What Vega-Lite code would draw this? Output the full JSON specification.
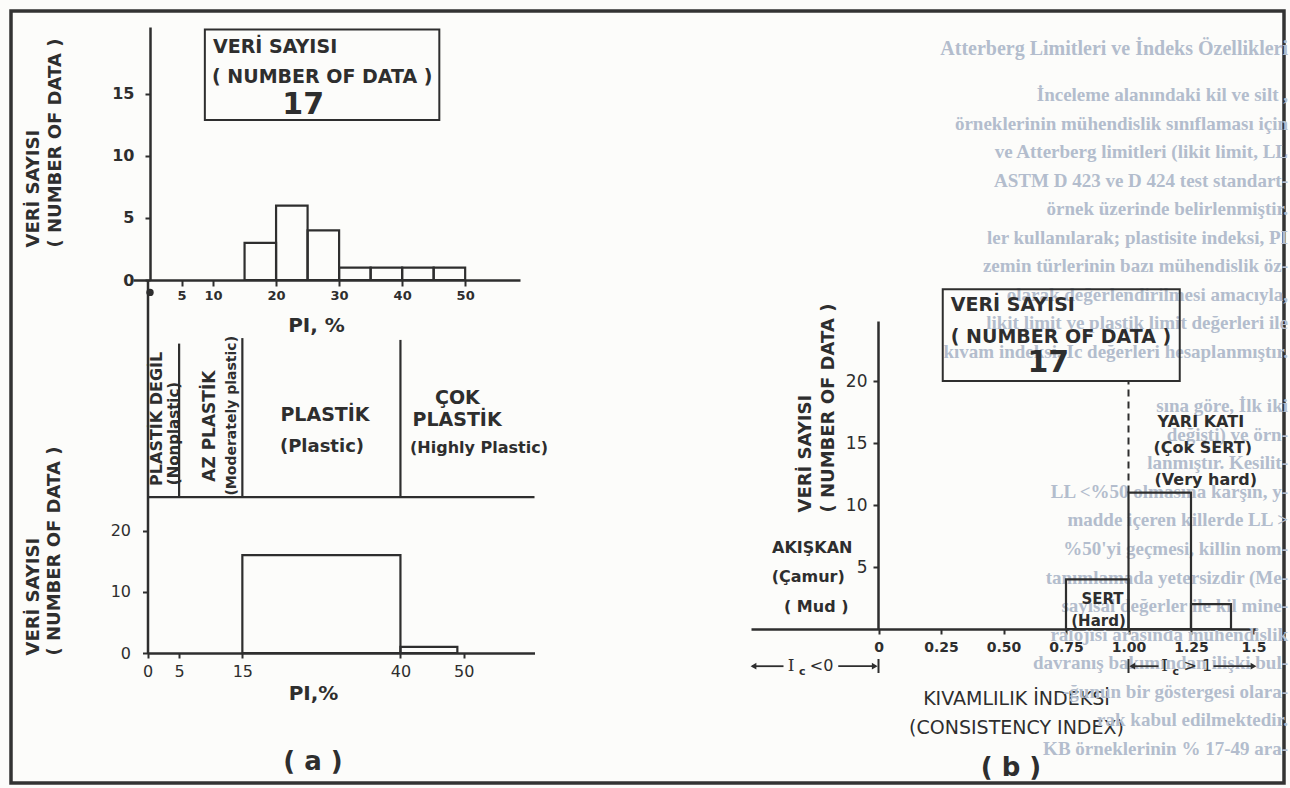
{
  "$schema": "https://vega.github.io/schema/vega-lite/v6.json",
  "width": 1273,
  "height": 772,
  "autosize": {"type": "none"},
  "padding": {"left": 11, "top": 11, "right": 6, "bottom": 5},
  "background": "#fcfcfa",
  "config": {
    "view": {"stroke": "#333333", "strokeWidth": 3.5},
    "font": "DejaVu Sans",
    "text": {"font": "DejaVu Sans", "color": "#2e2e2e", "fontWeight": "bold", "baseline": "middle"},
    "rule": {"color": "#2e2e2e", "strokeWidth": 2.2},
    "axis": {
      "grid": false,
      "domain": true,
      "ticks": true,
      "labels": true,
      "domainColor": "#2e2e2e",
      "domainWidth": 2.5,
      "tickColor": "#2e2e2e",
      "tickWidth": 2,
      "labelColor": "#2e2e2e",
      "titleColor": "#2e2e2e",
      "labelFont": "DejaVu Sans",
      "titleFont": "DejaVu Sans",
      "titleFontWeight": "bold",
      "labelFontWeight": "normal",
      "labelFlush": false,
      "labelOverlap": false
    }
  },
  "datasets": {
    "pi_dagilim": [
      {"pi_alt": 15, "pi_ust": 20, "adet": 3},
      {"pi_alt": 20, "pi_ust": 25, "adet": 6},
      {"pi_alt": 25, "pi_ust": 30, "adet": 4},
      {"pi_alt": 30, "pi_ust": 35, "adet": 1},
      {"pi_alt": 35, "pi_ust": 40, "adet": 1},
      {"pi_alt": 40, "pi_ust": 45, "adet": 1},
      {"pi_alt": 45, "pi_ust": 50, "adet": 1}
    ],
    "pi_sinif": [
      {"pi_alt": 15, "pi_ust": 40, "adet": 16},
      {"pi_alt": 40, "pi_ust": 49, "adet": 1}
    ],
    "ic_dagilim": [
      {"ic_alt": 0.75, "ic_ust": 1.0, "adet": 4},
      {"ic_alt": 1.0, "ic_ust": 1.25, "adet": 11},
      {"ic_alt": 1.25, "ic_ust": 1.41, "adet": 2}
    ]
  },
  "layer": [
    {
      "data": {"values": [
        {"satir": 0, "metin": "Atterberg Limitleri ve İndeks Özellikleri"}
      ]},
      "mark": {"type": "text", "align": "right", "baseline": "middle", "font": "Liberation Serif", "fontSize": 20, "fontWeight": "bold", "color": "#b3bdcd"},
      "encoding": {
        "x": {"datum": 1.638, "type": "quantitative", "scale": {"domain": [-0.51, 1.514], "range": [740, 1246], "nice": false, "zero": false}, "axis": null},
        "y": {"field": "satir", "type": "quantitative", "scale": {"domain": [0, 10], "range": [38, 341], "nice": false, "zero": false}, "axis": null},
        "text": {"field": "metin"}
      }
    },
    {
      "data": {"values": [
        {"satir": 1, "metin": "İnceleme alanındaki kil ve silt ,"},
        {"satir": 2, "metin": "örneklerinin mühendislik sınıflaması için"},
        {"satir": 3, "metin": "ve Atterberg limitleri (likit limit, LL"},
        {"satir": 4, "metin": "ASTM D 423 ve D 424 test standart-"},
        {"satir": 5, "metin": "örnek üzerinde belirlenmiştir."},
        {"satir": 6, "metin": "ler kullanılarak; plastisite indeksi, PI"},
        {"satir": 7, "metin": "zemin türlerinin bazı mühendislik öz-"},
        {"satir": 8, "metin": "olarak değerlendirilmesi amacıyla,"},
        {"satir": 9, "metin": "likit limit ve plastik limit değerleri ile"},
        {"satir": 10, "metin": "kıvam indeksi, Ic değerleri hesaplanmıştır."}
      ]},
      "mark": {"type": "text", "align": "right", "baseline": "middle", "font": "Liberation Serif", "fontSize": 19, "fontWeight": "bold", "color": "#b3bdcd"},
      "encoding": {
        "x": {"datum": 1.638, "type": "quantitative", "scale": {"domain": [-0.51, 1.514], "range": [740, 1246], "nice": false, "zero": false}, "axis": null},
        "y": {"field": "satir", "type": "quantitative", "scale": {"domain": [1, 10], "range": [84, 341], "nice": false, "zero": false}, "axis": null},
        "text": {"field": "metin"}
      }
    },
    {
      "data": {"values": [
        {"satir": 1, "metin": "sına göre, İlk iki"},
        {"satir": 2, "metin": "değişti) ve örn-"},
        {"satir": 3, "metin": "lanmıştır. Kesilit-"},
        {"satir": 4, "metin": "LL <%50 olmasına karşın, y-"},
        {"satir": 5, "metin": "madde içeren killerde LL >"},
        {"satir": 6, "metin": "%50'yi geçmesi, killin nom-"},
        {"satir": 7, "metin": "tanımlamada yetersizdir (Me-"},
        {"satir": 8, "metin": "sayısal değerler ile kil mine-"},
        {"satir": 9, "metin": "ralojisi arasında mühendislik"},
        {"satir": 10, "metin": "davranış bakımından ilişki bul-"},
        {"satir": 11, "metin": "-ğunun bir göstergesi olara-"},
        {"satir": 12, "metin": "rak kabul edilmektedir."},
        {"satir": 13, "metin": "KB örneklerinin % 17-49 ara-"}
      ]},
      "mark": {"type": "text", "align": "right", "baseline": "middle", "font": "Liberation Serif", "fontSize": 19, "fontWeight": "bold", "color": "#b3bdcd"},
      "encoding": {
        "x": {"datum": 1.638, "type": "quantitative", "scale": {"domain": [-0.51, 1.514], "range": [740, 1246], "nice": false, "zero": false}, "axis": null},
        "y": {"field": "satir", "type": "quantitative", "scale": {"domain": [1, 13], "range": [395, 738], "nice": false, "zero": false}, "axis": null},
        "text": {"field": "metin"}
      }
    },
    {
      "data": {"name": "pi_dagilim"},
      "mark": {"type": "bar", "filled": false, "stroke": "#2e2e2e", "strokeWidth": 2.2},
      "encoding": {
        "x": {"field": "pi_alt", "type": "quantitative", "scale": {"domain": [-2.7, 58.7], "range": [122, 509], "nice": false, "zero": false},
          "axis": {"orient": "bottom", "offset": -503, "values": [5, 10, 20, 30, 40, 50], "title": "PI, %", "titleX": 305, "titleY": 45, "titleBaseline": "middle", "titleFontSize": 20, "tickSize": 6, "labelPadding": 3, "labelFontSize": 13, "labelFontWeight": "bold"}},
        "x2": {"field": "pi_ust"},
        "y": {"field": "adet", "type": "quantitative", "scale": {"domain": [0, 20.4], "range": [269, 16], "nice": false, "zero": false},
          "axis": {"orient": "left", "offset": -139, "values": [0, 5, 10, 15], "title": ["VERİ SAYISI", "( NUMBER OF DATA )"], "titleX": -117, "titleY": 236, "titleAngle": 270, "titleAlign": "left", "titleBaseline": "middle", "titleLineHeight": 22, "titleFontSize": 18, "tickSize": 5, "labelPadding": 11, "labelFontSize": 16, "labelFontWeight": "bold"}},
        "y2": {"datum": 0}
      }
    },
    {
      "data": {"values": [{"x1": 8.7, "x2": 45.9, "y1": 12.9, "y2": 20.2}]},
      "mark": {"type": "rect", "filled": false, "stroke": "#2e2e2e", "strokeWidth": 2},
      "encoding": {
        "x": {"field": "x1", "type": "quantitative", "scale": {"domain": [-2.7, 58.7], "range": [122, 509], "nice": false, "zero": false}, "axis": null},
        "x2": {"field": "x2"},
        "y": {"field": "y1", "type": "quantitative", "scale": {"domain": [0, 20.4], "range": [269, 16], "nice": false, "zero": false}, "axis": null},
        "y2": {"field": "y2"}
      }
    },
    {
      "data": {"values": [
        {"metin": "VERİ SAYISI", "x": 10.0, "y": 18.8},
        {"metin": "( NUMBER OF DATA )", "x": 9.84, "y": 16.37}
      ]},
      "mark": {"type": "text", "align": "left", "fontSize": 19},
      "encoding": {
        "x": {"field": "x", "type": "quantitative", "scale": {"domain": [-2.7, 58.7], "range": [122, 509], "nice": false, "zero": false}, "axis": null},
        "y": {"field": "y", "type": "quantitative", "scale": {"domain": [0, 20.4], "range": [269, 16], "nice": false, "zero": false}, "axis": null},
        "text": {"field": "metin"}
      }
    },
    {
      "data": {"values": [{"metin": "17", "x": 24.3, "y": 14.1}]},
      "mark": {"type": "text", "align": "center", "fontSize": 30},
      "encoding": {
        "x": {"field": "x", "type": "quantitative", "scale": {"domain": [-2.7, 58.7], "range": [122, 509], "nice": false, "zero": false}, "axis": null},
        "y": {"field": "y", "type": "quantitative", "scale": {"domain": [0, 20.4], "range": [269, 16], "nice": false, "zero": false}, "axis": null},
        "text": {"field": "metin"}
      }
    },
    {
      "data": {"values": [{"x": 0, "y": -1}]},
      "mark": {"type": "point", "filled": true, "size": 55, "color": "#2e2e2e", "opacity": 1},
      "encoding": {
        "x": {"field": "x", "type": "quantitative", "scale": {"domain": [-2.7, 58.7], "range": [122, 509], "nice": false, "zero": false}, "axis": null},
        "y": {"field": "y", "type": "quantitative", "scale": {"domain": [0, 20.4], "range": [269, 16], "nice": false, "zero": false}, "axis": null}
      }
    },
    {
      "data": {"name": "pi_sinif"},
      "mark": {"type": "bar", "filled": false, "stroke": "#2e2e2e", "strokeWidth": 2.2},
      "encoding": {
        "x": {"field": "pi_alt", "type": "quantitative", "scale": {"domain": [0, 61.2], "range": [136.5, 523.5], "nice": false, "zero": false},
          "axis": {"orient": "bottom", "offset": -130, "values": [0, 5, 15, 40, 50], "title": "PI,%", "titleX": 302, "titleY": 40, "titleBaseline": "middle", "titleFontSize": 20, "tickSize": 5, "labelPadding": 5, "labelFontSize": 16}},
        "x2": {"field": "pi_ust"},
        "y": {"field": "adet", "type": "quantitative", "scale": {"domain": [0, 61.0], "range": [642, 269], "nice": false, "zero": false},
          "axis": {"orient": "left", "offset": -136.5, "values": [0, 10, 20], "title": ["VERİ SAYISI", "( NUMBER OF DATA )"], "titleX": -114.5, "titleY": 644, "titleAngle": 270, "titleAlign": "left", "titleBaseline": "middle", "titleLineHeight": 21, "titleFontSize": 18, "tickSize": 5, "labelPadding": 12, "labelFontSize": 16}},
        "y2": {"datum": 0}
      }
    },
    {
      "data": {"values": [
        {"x": 0, "x2": 61.2, "y": 25.5, "y2": 25.5},
        {"x": 5, "x2": 5, "y": 25.5, "y2": 50.6},
        {"x": 15, "x2": 15, "y": 25.5, "y2": 51.5},
        {"x": 40, "x2": 40, "y": 25.5, "y2": 51.2}
      ]},
      "mark": {"type": "rule", "strokeWidth": 2.2},
      "encoding": {
        "x": {"field": "x", "type": "quantitative", "scale": {"domain": [0, 61.2], "range": [136.5, 523.5], "nice": false, "zero": false}, "axis": null},
        "x2": {"field": "x2"},
        "y": {"field": "y", "type": "quantitative", "scale": {"domain": [0, 61.0], "range": [642, 269], "nice": false, "zero": false}, "axis": null},
        "y2": {"field": "y2"}
      }
    },
    {
      "data": {"values": [{"metin": "PLASTİK DEGİL", "x": 1.5, "y": 38.3}]},
      "mark": {"type": "text", "align": "center", "angle": 270, "fontSize": 16},
      "encoding": {
        "x": {"field": "x", "type": "quantitative", "scale": {"domain": [0, 61.2], "range": [136.5, 523.5], "nice": false, "zero": false}, "axis": null},
        "y": {"field": "y", "type": "quantitative", "scale": {"domain": [0, 61.0], "range": [642, 269], "nice": false, "zero": false}, "axis": null},
        "text": {"field": "metin"}
      }
    },
    {
      "data": {"values": [{"metin": "(Nonplastic)", "x": 4.19, "y": 35.9}]},
      "mark": {"type": "text", "align": "center", "angle": 270, "fontSize": 15},
      "encoding": {
        "x": {"field": "x", "type": "quantitative", "scale": {"domain": [0, 61.2], "range": [136.5, 523.5], "nice": false, "zero": false}, "axis": null},
        "y": {"field": "y", "type": "quantitative", "scale": {"domain": [0, 61.0], "range": [642, 269], "nice": false, "zero": false}, "axis": null},
        "text": {"field": "metin"}
      }
    },
    {
      "data": {"values": [{"metin": "(Moderately plastic)", "x": 13.36, "y": 38.8}]},
      "mark": {"type": "text", "align": "center", "angle": 270, "fontSize": 14},
      "encoding": {
        "x": {"field": "x", "type": "quantitative", "scale": {"domain": [0, 61.2], "range": [136.5, 523.5], "nice": false, "zero": false}, "axis": null},
        "y": {"field": "y", "type": "quantitative", "scale": {"domain": [0, 61.0], "range": [642, 269], "nice": false, "zero": false}, "axis": null},
        "text": {"field": "metin"}
      }
    },
    {
      "data": {"values": [{"metin": "AZ PLASTİK", "x": 9.88, "y": 37.1}]},
      "mark": {"type": "text", "align": "center", "angle": 270, "fontSize": 17},
      "encoding": {
        "x": {"field": "x", "type": "quantitative", "scale": {"domain": [0, 61.2], "range": [136.5, 523.5], "nice": false, "zero": false}, "axis": null},
        "y": {"field": "y", "type": "quantitative", "scale": {"domain": [0, 61.0], "range": [642, 269], "nice": false, "zero": false}, "axis": null},
        "text": {"field": "metin"}
      }
    },
    {
      "data": {"values": [
        {"metin": "PLASTİK", "x": 28.07, "y": 38.93},
        {"metin": "ÇOK", "x": 49.0, "y": 41.71}
      ]},
      "mark": {"type": "text", "align": "center", "fontSize": 19},
      "encoding": {
        "x": {"field": "x", "type": "quantitative", "scale": {"domain": [0, 61.2], "range": [136.5, 523.5], "nice": false, "zero": false}, "axis": null},
        "y": {"field": "y", "type": "quantitative", "scale": {"domain": [0, 61.0], "range": [642, 269], "nice": false, "zero": false}, "axis": null},
        "text": {"field": "metin"}
      }
    },
    {
      "data": {"values": [{"metin": "PLASTİK", "x": 41.9, "y": 38.1}]},
      "mark": {"type": "text", "align": "left", "fontSize": 19},
      "encoding": {
        "x": {"field": "x", "type": "quantitative", "scale": {"domain": [0, 61.2], "range": [136.5, 523.5], "nice": false, "zero": false}, "axis": null},
        "y": {"field": "y", "type": "quantitative", "scale": {"domain": [0, 61.0], "range": [642, 269], "nice": false, "zero": false}, "axis": null},
        "text": {"field": "metin"}
      }
    },
    {
      "data": {"values": [{"metin": "(Plastic)", "x": 27.59, "y": 33.7}]},
      "mark": {"type": "text", "align": "center", "fontSize": 18},
      "encoding": {
        "x": {"field": "x", "type": "quantitative", "scale": {"domain": [0, 61.2], "range": [136.5, 523.5], "nice": false, "zero": false}, "axis": null},
        "y": {"field": "y", "type": "quantitative", "scale": {"domain": [0, 61.0], "range": [642, 269], "nice": false, "zero": false}, "axis": null},
        "text": {"field": "metin"}
      }
    },
    {
      "data": {"values": [{"metin": "(Highly Plastic)", "x": 52.42, "y": 33.53}]},
      "mark": {"type": "text", "align": "center", "fontSize": 16},
      "encoding": {
        "x": {"field": "x", "type": "quantitative", "scale": {"domain": [0, 61.2], "range": [136.5, 523.5], "nice": false, "zero": false}, "axis": null},
        "y": {"field": "y", "type": "quantitative", "scale": {"domain": [0, 61.0], "range": [642, 269], "nice": false, "zero": false}, "axis": null},
        "text": {"field": "metin"}
      }
    },
    {
      "data": {"values": [{"metin": "( a )", "x": 26.17, "y": -17.83}]},
      "mark": {"type": "text", "align": "center", "fontSize": 26},
      "encoding": {
        "x": {"field": "x", "type": "quantitative", "scale": {"domain": [0, 61.2], "range": [136.5, 523.5], "nice": false, "zero": false}, "axis": null},
        "y": {"field": "y", "type": "quantitative", "scale": {"domain": [0, 61.0], "range": [642, 269], "nice": false, "zero": false}, "axis": null},
        "text": {"field": "metin"}
      }
    },
    {
      "data": {"name": "ic_dagilim"},
      "mark": {"type": "bar", "filled": false, "stroke": "#2e2e2e", "strokeWidth": 2.2},
      "encoding": {
        "x": {"field": "ic_alt", "type": "quantitative", "scale": {"domain": [-0.51, 1.514], "range": [740, 1246], "nice": false, "zero": false},
          "axis": {"orient": "bottom", "offset": -154, "values": [0, 0.25, 0.5, 0.75, 1, 1.25, 1.5], "labelExpr": "datum.value == 0 ? '0' : datum.value == 1.5 ? '1.5' : format(datum.value, '.2f')", "title": ["KIVAMLILIK İNDEKSİ", "(CONSISTENCY INDEX)"], "titleX": 1005, "titleY": 69, "titleBaseline": "middle", "titleLineHeight": 29, "titleFontSize": 19, "titleFontWeight": "normal", "tickSize": 5, "labelPadding": 6, "labelFontSize": 14, "labelFontWeight": "bold"}},
        "x2": {"field": "ic_ust"},
        "y": {"field": "adet", "type": "quantitative", "scale": {"domain": [0, 24.84], "range": [618, 310], "nice": false, "zero": false},
          "axis": {"orient": "left", "offset": -867, "values": [5, 10, 15, 20], "title": ["VERİ SAYISI", "( NUMBER OF DATA )"], "titleX": -73, "titleY": 501, "titleAngle": 270, "titleAlign": "left", "titleBaseline": "middle", "titleLineHeight": 23, "titleFontSize": 18, "tickSize": 5, "labelPadding": 6, "labelFontSize": 17}},
        "y2": {"datum": 0}
      }
    },
    {
      "data": {"values": [{"x1": 0.257, "x2": 1.205, "y1": 20.0, "y2": 27.4}]},
      "mark": {"type": "rect", "filled": false, "stroke": "#2e2e2e", "strokeWidth": 2},
      "encoding": {
        "x": {"field": "x1", "type": "quantitative", "scale": {"domain": [-0.51, 1.514], "range": [740, 1246], "nice": false, "zero": false}, "axis": null},
        "x2": {"field": "x2"},
        "y": {"field": "y1", "type": "quantitative", "scale": {"domain": [0, 24.84], "range": [618, 310], "nice": false, "zero": false}, "axis": null},
        "y2": {"field": "y2"}
      }
    },
    {
      "data": {"values": [
        {"metin": "VERİ SAYISI", "x": 0.289, "y": 26.13},
        {"metin": "( NUMBER OF DATA )", "x": 0.289, "y": 23.55}
      ]},
      "mark": {"type": "text", "align": "left", "fontSize": 19},
      "encoding": {
        "x": {"field": "x", "type": "quantitative", "scale": {"domain": [-0.51, 1.514], "range": [740, 1246], "nice": false, "zero": false}, "axis": null},
        "y": {"field": "y", "type": "quantitative", "scale": {"domain": [0, 24.84], "range": [618, 310], "nice": false, "zero": false}, "axis": null},
        "text": {"field": "metin"}
      }
    },
    {
      "data": {"values": [{"metin": "17", "x": 0.679, "y": 21.45}]},
      "mark": {"type": "text", "align": "center", "fontSize": 30},
      "encoding": {
        "x": {"field": "x", "type": "quantitative", "scale": {"domain": [-0.51, 1.514], "range": [740, 1246], "nice": false, "zero": false}, "axis": null},
        "y": {"field": "y", "type": "quantitative", "scale": {"domain": [0, 24.84], "range": [618, 310], "nice": false, "zero": false}, "axis": null},
        "text": {"field": "metin"}
      }
    },
    {
      "data": {"values": [{"x": 1.0, "y": 11, "y2": 20.0}]},
      "mark": {"type": "rule", "strokeWidth": 2, "strokeDash": [7, 5]},
      "encoding": {
        "x": {"field": "x", "type": "quantitative", "scale": {"domain": [-0.51, 1.514], "range": [740, 1246], "nice": false, "zero": false}, "axis": null},
        "y": {"field": "y", "type": "quantitative", "scale": {"domain": [0, 24.84], "range": [618, 310], "nice": false, "zero": false}, "axis": null},
        "y2": {"field": "y2"}
      }
    },
    {
      "data": {"values": [
        {"metin": "YARI KATI", "x": 1.289, "y": 16.69},
        {"metin": "(Çok SERT)", "x": 1.297, "y": 14.6},
        {"metin": "(Very hard)", "x": 1.309, "y": 12.02},
        {"metin": "AKIŞKAN", "x": -0.265, "y": 6.53},
        {"metin": "(Çamur)", "x": -0.281, "y": 4.19},
        {"metin": "( Mud )", "x": -0.249, "y": 1.77}
      ]},
      "mark": {"type": "text", "align": "center", "fontSize": 16},
      "encoding": {
        "x": {"field": "x", "type": "quantitative", "scale": {"domain": [-0.51, 1.514], "range": [740, 1246], "nice": false, "zero": false}, "axis": null},
        "y": {"field": "y", "type": "quantitative", "scale": {"domain": [0, 24.84], "range": [618, 310], "nice": false, "zero": false}, "axis": null},
        "text": {"field": "metin"}
      }
    },
    {
      "data": {"values": [
        {"metin": "SERT", "x": 0.896, "y": 2.42},
        {"metin": "(Hard)", "x": 0.88, "y": 0.65}
      ]},
      "mark": {"type": "text", "align": "center", "fontSize": 15},
      "encoding": {
        "x": {"field": "x", "type": "quantitative", "scale": {"domain": [-0.51, 1.514], "range": [740, 1246], "nice": false, "zero": false}, "axis": null},
        "y": {"field": "y", "type": "quantitative", "scale": {"domain": [0, 24.84], "range": [618, 310], "nice": false, "zero": false}, "axis": null},
        "text": {"field": "metin"}
      }
    },
    {
      "data": {"values": [
        {"x": -0.505, "x2": -0.38, "y": -3.0},
        {"x": -0.161, "x2": -0.01, "y": -3.0},
        {"x": 1.01, "x2": 1.12, "y": -3.0},
        {"x": 1.34, "x2": 1.5, "y": -3.0}
      ]},
      "mark": {"type": "rule", "strokeWidth": 1.8},
      "encoding": {
        "x": {"field": "x", "type": "quantitative", "scale": {"domain": [-0.51, 1.514], "range": [740, 1246], "nice": false, "zero": false}, "axis": null},
        "x2": {"field": "x2"},
        "y": {"field": "y", "type": "quantitative", "scale": {"domain": [0, 24.84], "range": [618, 310], "nice": false, "zero": false}, "axis": null}
      }
    },
    {
      "data": {"values": [
        {"x": 0, "y": -2.42, "y2": -3.55},
        {"x": 1.0, "y": -2.42, "y2": -3.55}
      ]},
      "mark": {"type": "rule", "strokeWidth": 2},
      "encoding": {
        "x": {"field": "x", "type": "quantitative", "scale": {"domain": [-0.51, 1.514], "range": [740, 1246], "nice": false, "zero": false}, "axis": null},
        "y": {"field": "y", "type": "quantitative", "scale": {"domain": [0, 24.84], "range": [618, 310], "nice": false, "zero": false}, "axis": null},
        "y2": {"field": "y2"}
      }
    },
    {
      "data": {"values": [{"x": -0.5, "y": -3.0}, {"x": 1.015, "y": -3.0}]},
      "mark": {"type": "point", "shape": "triangle-left", "filled": true, "size": 45, "color": "#2e2e2e", "opacity": 1},
      "encoding": {
        "x": {"field": "x", "type": "quantitative", "scale": {"domain": [-0.51, 1.514], "range": [740, 1246], "nice": false, "zero": false}, "axis": null},
        "y": {"field": "y", "type": "quantitative", "scale": {"domain": [0, 24.84], "range": [618, 310], "nice": false, "zero": false}, "axis": null}
      }
    },
    {
      "data": {"values": [{"x": -0.015, "y": -3.0}, {"x": 1.5, "y": -3.0}]},
      "mark": {"type": "point", "shape": "triangle-right", "filled": true, "size": 45, "color": "#2e2e2e", "opacity": 1},
      "encoding": {
        "x": {"field": "x", "type": "quantitative", "scale": {"domain": [-0.51, 1.514], "range": [740, 1246], "nice": false, "zero": false}, "axis": null},
        "y": {"field": "y", "type": "quantitative", "scale": {"domain": [0, 24.84], "range": [618, 310], "nice": false, "zero": false}, "axis": null}
      }
    },
    {
      "data": {"values": [{"metin": "I", "x": -0.35, "y": -3.0}, {"metin": "I", "x": 1.144, "y": -3.0}]},
      "mark": {"type": "text", "align": "center", "fontSize": 17, "fontWeight": "normal", "font": "DejaVu Serif"},
      "encoding": {
        "x": {"field": "x", "type": "quantitative", "scale": {"domain": [-0.51, 1.514], "range": [740, 1246], "nice": false, "zero": false}, "axis": null},
        "y": {"field": "y", "type": "quantitative", "scale": {"domain": [0, 24.84], "range": [618, 310], "nice": false, "zero": false}, "axis": null},
        "text": {"field": "metin"}
      }
    },
    {
      "data": {"values": [{"metin": "c", "x": -0.305, "y": -3.5}, {"metin": "c", "x": 1.189, "y": -3.5}]},
      "mark": {"type": "text", "align": "center", "fontSize": 11},
      "encoding": {
        "x": {"field": "x", "type": "quantitative", "scale": {"domain": [-0.51, 1.514], "range": [740, 1246], "nice": false, "zero": false}, "axis": null},
        "y": {"field": "y", "type": "quantitative", "scale": {"domain": [0, 24.84], "range": [618, 310], "nice": false, "zero": false}, "axis": null},
        "text": {"field": "metin"}
      }
    },
    {
      "data": {"values": [{"metin": "<0", "x": -0.275, "y": -3.0}, {"metin": "> 1", "x": 1.22, "y": -3.0}]},
      "mark": {"type": "text", "align": "left", "fontSize": 16, "fontWeight": "normal"},
      "encoding": {
        "x": {"field": "x", "type": "quantitative", "scale": {"domain": [-0.51, 1.514], "range": [740, 1246], "nice": false, "zero": false}, "axis": null},
        "y": {"field": "y", "type": "quantitative", "scale": {"domain": [0, 24.84], "range": [618, 310], "nice": false, "zero": false}, "axis": null},
        "text": {"field": "metin"}
      }
    },
    {
      "data": {"values": [{"metin": "( b )", "x": 0.53, "y": -11.21}]},
      "mark": {"type": "text", "align": "center", "fontSize": 26},
      "encoding": {
        "x": {"field": "x", "type": "quantitative", "scale": {"domain": [-0.51, 1.514], "range": [740, 1246], "nice": false, "zero": false}, "axis": null},
        "y": {"field": "y", "type": "quantitative", "scale": {"domain": [0, 24.84], "range": [618, 310], "nice": false, "zero": false}, "axis": null},
        "text": {"field": "metin"}
      }
    }
  ],
  "resolve": {"scale": {"x": "independent", "y": "independent"}}
}
